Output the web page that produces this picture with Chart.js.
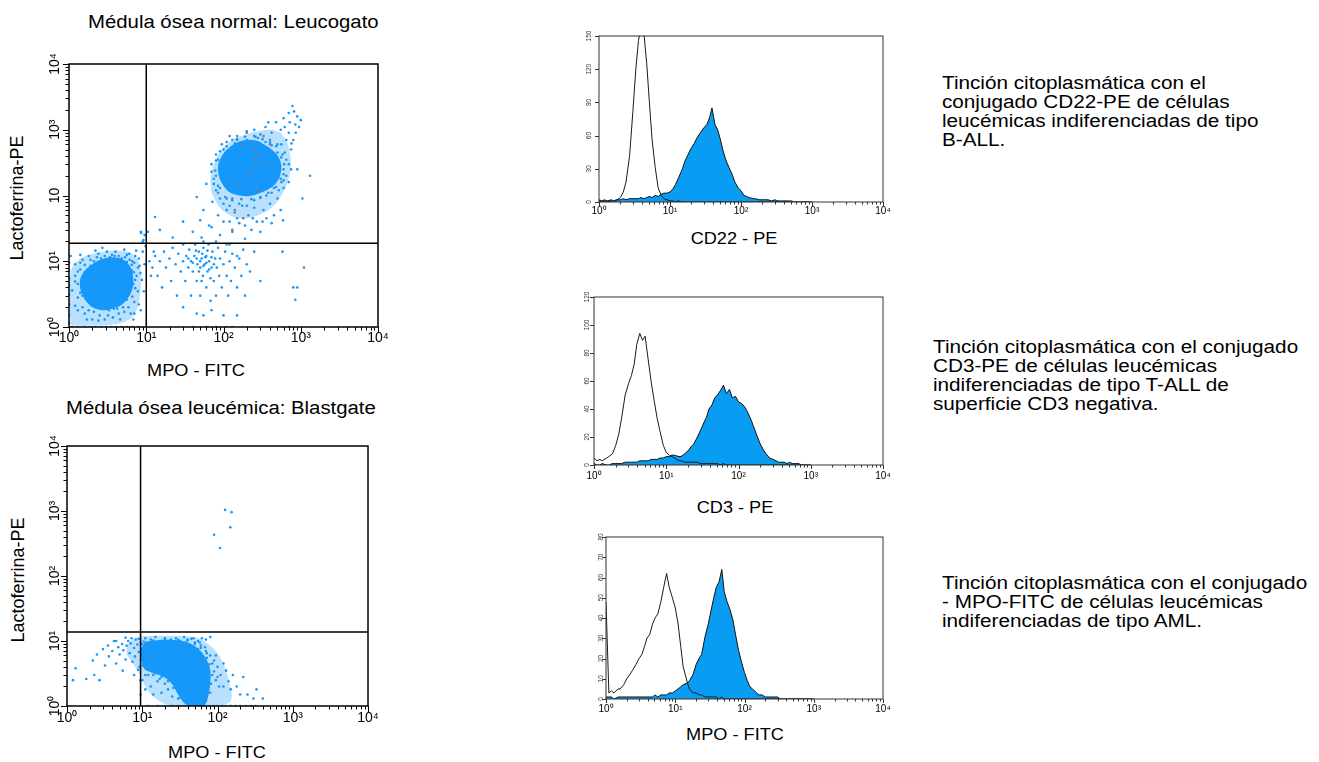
<!DOCTYPE html>
<html lang="es">
<head>
<meta charset="utf-8">
<title>Citometría de flujo: MPO, lactoferrina, CD22, CD3</title>
<script src="https://cdn.jsdelivr.net/npm/chart.js@4.4.1/dist/chart.umd.min.js"></script>
<style>
  html, body { margin: 0; padding: 0; background: #fff; }
  body { width: 1319px; height: 762px; position: relative; overflow: hidden;
         font-family: Arial, "Liberation Sans", Helvetica, sans-serif; color: #000; }
  .plot { position: absolute; }
  .title { position: absolute; white-space: nowrap; font-size: 18px; line-height: 20px;
           transform: scaleX(1.13); transform-origin: 0 50%; }
  .ax { position: absolute; white-space: nowrap; font-size: 16.5px; line-height: 20px;
        transform: translate(-50%, -50%) scaleX(1.1); }
  .ytitle { position: absolute; white-space: nowrap; font-size: 18px; line-height: 20px;
            transform: translate(-50%, -50%) rotate(-90deg); }
  .desc { position: absolute; white-space: nowrap; font-size: 18px; line-height: 19px;
          transform: scaleX(1.15); transform-origin: 0 0; }
</style>
</head>
<body>

<div class="title" style="left:88px; top:12px;">Médula ósea normal: Leucogato</div>
<div class="title" style="left:66px; top:398px;">Médula ósea leucémica: Blastgate</div>

<div class="ytitle" style="left:17px; top:198px;">Lactoferrina-PE</div>
<div class="ytitle" style="left:18px; top:580px;">Lactoferrina-PE</div>
<div class="ax" style="left:196px; top:370px;">MPO - FITC</div>
<div class="ax" style="left:217px; top:752px;">MPO - FITC</div>
<div class="ax" style="left:734px; top:238px;">CD22 - PE</div>
<div class="ax" style="left:735px; top:507px;">CD3 - PE</div>
<div class="ax" style="left:735px; top:734px;">MPO - FITC</div>

<div class="desc" style="left:942px; top:74px;">Tinción citoplasmática con el<br>conjugado CD22-PE de células<br>leucémicas indiferenciadas de tipo<br>B-ALL.</div>
<div class="desc" style="left:933px; top:338px;">Tinción citoplasmática con el conjugado<br>CD3-PE de células leucémicas<br>indiferenciadas de tipo T-ALL de<br>superficie CD3 negativa.</div>
<div class="desc" style="left:942px; top:574px;">Tinción citoplasmática con el conjugado<br>- MPO-FITC de células leucémicas<br>indiferenciadas de tipo AML.</div>

<div class="plot" id="wrapNormal"><canvas id="normalChart"></canvas></div>
<div class="plot" id="wrapLeuk"><canvas id="leukChart"></canvas></div>
<div class="plot" id="wrapCd22"><canvas id="cd22Chart"></canvas></div>
<div class="plot" id="wrapCd3"><canvas id="cd3Chart"></canvas></div>
<div class="plot" id="wrapMpo"><canvas id="mpoChart"></canvas></div>

<script>
// ---- axis labels ----
const decades = [1, 10, 100, 1000, 10000];
const decadeLabels = ['10⁰', '10¹', '10²', '10³', '10⁴'];
const normalYLabels = ['10⁰', '10¹', '10', '10³', '10⁴'];  // as printed in the original

// ---- dot plots: [MPO-FITC, Lactoferrina-PE] ----
const normalGate = [10, 18.8];
const leukGate = [9.5, 13.7];

// outlines of the densest part of each population
const normalLowCore = [
  [1.6,2.6],[2.0,2.0],[2.8,1.8],[3.6,1.9],[4.6,2.1],[5.6,2.6],[6.4,3.4],[6.8,4.6],[6.7,6.2],
  [6.3,8.0],[5.5,9.8],[4.5,11.2],[3.4,11.5],[2.6,10.6],[2.0,9.0],[1.6,7.2],[1.4,5.4],[1.4,3.8],[1.6,2.6]
];
const normalHighCore = [
  [100,140],[120,112],[160,100],[220,98],[290,108],[380,125],[470,150],[540,200],[560,280],
  [520,380],[440,480],[350,580],[270,680],[200,700],[150,640],[115,520],[95,400],[85,280],[88,190],[100,140]
];
const leukCore = [
  [11,9.8],[16,10.3],[24,10.4],[34,10],[45,9],[57,7.4],[70,5.4],[80,3.6],[80,2.2],[74,1.3],
  [66,1.0],[50,1.0],[38,1.05],[30,1.5],[24,2.3],[18,2.9],[13,3.3],[10.5,3.8],[9.7,5.5],[9.8,7.8],[11,9.8]
];
// outlines of the medium-density halo around them
const normalLowHalo = [
  [1.05,1.05],[2,1.05],[4,1.1],[6,1.3],[7.5,1.8],[8.3,3],[8.6,5],[8.4,8],[7.6,11],[6.2,13.5],
  [4.5,14.5],[3,14.2],[2,13],[1.4,11],[1.1,8],[1.02,5],[1.02,2.5],[1.05,1.05]
];
const normalHighHalo = [
  [70,110],[90,65],[130,48],[200,45],[300,52],[420,65],[560,100],[680,160],[740,260],[730,420],
  [660,650],[540,900],[400,1000],[280,950],[190,850],[130,700],[95,500],[75,300],[68,180],[70,110]
];
const leukHalo = [
  [10,11.8],[20,12],[35,11.8],[55,11],[75,9],[100,6.5],[125,4],[145,2.2],[150,1.2],[100,1.0],
  [50,1.0],[25,1.0],[15,1.3],[11,2],[9.5,3],[7.5,4.5],[6.2,6.5],[6.5,9],[8,11],[10,11.8]
];

const normalEvents = [
  // lymphoid / negative population
  [1.1,1],[1.3,1],[1.6,1],[1.9,1],[2.2,1],[2.6,1],[3.0,1],[3.5,1],[4.1,1],[4.8,1],[5.6,1],[6.6,1],[7.8,1],
  [1,1.5],[1,2.2],[1,3.1],[1,4.2],[1,5.5],[1,7.2],
  [1.2,2.1],[1.3,4.5],[1.4,7.5],[1.5,3.0],[1.5,10.5],[1.6,1.6],[1.7,5.5],[1.8,2.5],[1.8,12],[1.9,8.5],
  [2.0,1.3],[2.0,3.4],[2.1,10],[2.3,2.0],[2.4,13],[2.5,1.5],[2.6,11],[2.8,2.3],[2.9,1.3],[3.0,9.8],
  [3.1,14],[3.3,1.8],[3.4,11.5],[3.6,2.2],[3.7,1.4],[3.9,12],[4.2,1.9],[4.3,9.8],[4.5,2.4],[4.6,1.3],
  [4.8,11],[5.0,2.0],[5.2,15],[5.5,8.5],[5.6,2.6],[5.8,5.5],[6.0,3.4],[6.1,10.5],[6.3,1.6],[6.5,7.2],
  [6.8,4.5],[7.0,2.4],[7.2,12],[7.5,6.0],[7.8,3.5],[8.2,8.5],[8.5,1.8],[8.8,5.2],[6.0,13],[1.9,6.2],
  [1.6,8.8],[1.3,1.8],[1.2,6.0],[2.2,14.5],[4.0,14],[7.0,9.5],[8.0,11],[9.0,14],[9.2,21],[8.6,27],
  [9.5,9],[9.3,3.5],[8.0,2.2],[1.4,12.5],[2.7,16],[5.6,12.5],[7.4,14.5],[6.8,1.3],[1.1,3.6],[1.2,9],
  [2.0,7.6],[1.7,3.9],[5.8,4.0],[6.2,6.2],[5.6,9.8],[2.4,9.5],[3.3,10.5],[4.6,10.2],[2.3,2.6],[4.4,2.8],
  [5.6,3.0],[3.0,2.3],[4.0,2.3],[1.5,5.0],[1.6,6.8],[6.5,8.8],[7.2,5.2],
  [1.4,3.3],[1.5,2.0],[1.7,1.3],[2.1,1.7],[2.6,1.9],[3.2,1.5],[3.8,1.9],[4.4,1.6],[5.2,1.7],[5.9,2.0],
  [6.6,2.9],[7.2,3.9],[6.9,6.8],[6.6,10],[5.3,11.5],[4.4,12],[3.6,12.5],[2.9,12],[2.3,11.5],[1.9,10.5],
  [1.4,9.5],[1.3,7.0],[1.2,4.9],[1.3,2.8],[7.8,8.0],[8.4,6.6],[7.0,1.6],[2.4,1.25],[1.8,1.8],[1,1.15],
  [1,9.5],[1.05,12],
  // monocytic population, MPO+ lactoferrin-
  [12,8],[13,12],[14,6],[15,10],[16,4],[17,14],[18,8],[20,11],[21,5],[22,16],[24,9],[25,3],[26,13],
  [28,7],[30,18],[30,10],[32,5],[33,12],[35,8],[36,15],[38,3],[38,10],[40,7],[42,12],[43,18],[45,5],
  [46,9],[48,14],[50,8],[50,3],[52,11],[54,6],[55,16],[57,9],[60,4],[60,12],[62,7],[64,18],[65,10],
  [68,2.5],[70,8],[72,14],[75,5],[78,11],[80,3],[82,8],[85,16],[88,6],[90,11],[95,4],[100,9],[105,14],
  [110,6],[115,3],[120,10],[125,5],[130,13],[140,8],[150,4],[160,11],[170,6],[180,15],[190,3],[200,9],
  [220,7],[30,2],[45,1.6],[55,1.5],[70,1.8],[100,1.5],[150,1.5],[55,20],[80,20],[120,18],[250,14],
  [300,5],[110,1],[60,1],[80,1],[130,1],[40,1],[11,10],[11.5,6],[12.5,14],
  [40,9.5],[45,11],[50,10],[55,8.5],[60,9.5],[65,7.5],[48,7],[53,13],[58,11.5],[62,14.5],[44,14.5],
  [35,11],[70,11.5],[75,9],[68,5.5],[52,5],
  [580,14],[800,4],[850,2.6],[900,4],[1100,8],[700,1],
  [13,47],[30,40],[22,23],[52,23],[50,42],[9,20],[9.5,25],[8.5,28],[9.8,17],[10.5,28],[15,30],[40,28],[70,33],
  // granulocytic population, MPO+ lactoferrin+
  [45,95],[55,60],[60,150],[65,35],[70,230],[72,80],[80,420],[85,50],[90,25],[95,600],
  [100,40],[110,18],[120,70],[130,28],[140,55],[150,12],[160,38],[175,70],[190,22],[210,50],
  [230,30],[250,65],[270,40],[300,28],[330,60],[360,45],[400,75],[450,50],[500,90],[550,60],
  [600,130],[650,200],[700,300],[620,450],[560,600],[750,500],[800,700],[700,900],[850,1200],[900,1600],
  [780,2300],[820,1900],[950,1100],[1000,1400],[900,250],[1320,200],[1050,90],[590,42],
  [150,800],[200,950],[250,1000],[300,850],[350,1100],[420,900],[480,1300],[550,1000],[600,1500],[700,1800],
  [200,700],[280,750],[400,700],
  [70,300],[75,180],[80,120],[85,350],[100,500],[110,650],[130,700],[600,250],[650,350],[550,180],
  [520,120],[480,300],[700,160],[750,250],[500,450],
  [80,200],[85,140],[90,90],[100,75],[110,60],[130,85],[160,75],[200,70],[250,85],[300,95],
  [380,110],[450,130],[520,200],[540,280],[560,380],[500,600],[420,580],[350,650],[300,620],[250,800],
  [180,560],[140,620],[100,400],[90,320],[95,260],[600,170],[150,45],[320,40],[420,38],[240,45],
  [190,35],[120,40],[380,1300],[650,700],[620,1100],[720,1300],[860,900],[760,620],
  [90,130],[85,110],[105,95],[130,90],[170,88],[230,88],[300,92],[360,100],[420,110],[480,135],
  [560,160],[600,210],[610,300],[580,420],[480,560],[400,640],[320,720],[260,780],[190,780],[150,720],
  [110,560],[90,470],[80,340],[78,240],[75,150],[500,260]
];

const normalGray = [
  [120,800],[150,700],[180,600],[200,900],[250,500],[260,350],[300,420],[350,300],[220,200],
  [160,150],[140,60],[180,45],[110,90],[280,120],[400,600],[130,30],[330,800],[230,250]
];

const leukEvents = [
  [11,11],[13,10.5],[15,11.5],[18,10],[20,11],[24,10.5],[28,11],[32,10],[36,11.5],[40,10.5],
  [48,11],[55,10],[62,11],[70,10.5],[80,11.5],
  [10,9],[10.5,6],[11,4],[10,2.5],[11,1.8],[12,8.5],[12,3],[13,2],[14,1.5],[15,9],[16,2.4],[18,1.6],
  [19,9],[22,1.8],[24,8.8],[25,1.4],[28,9],[30,1.3],[38,9.5],[40,8.5],[45,8],[50,9],[55,7.5],[60,8.5],
  [62,6],[65,5],[70,7],[75,4],[80,6],[85,3],[90,5],[95,2.5],[100,4],[110,3],[120,2],[130,3.5],
  [140,2.4],[150,1.8],[160,3],[180,2],[200,1.5],[220,2.8],[250,1.5],[300,1.3],[330,1.8],[400,1.3],
  [70,1.2],[80,1.6],[60,1.3],
  [12,6.5],[14,7],[12,5],[15,3.2],[18,2.8],[20,2.2],[45,2.5],[60,3.2],[65,2.2],[50,5.5],[45,6.5],
  [55,6],[66,3.8],[72,5.5],[68,8],[58,9.5],[30,9.8],[22,9.5],[17,9.6],[25,2.3],[28,1.9],[35,1.5],
  [45,1.3],[55,1.6],[62,1.9],[75,2.4],[85,4.5],[95,6],[105,2],[120,4.5],[10.5,7.8],[11,3],
  [9.8,6],[10.2,4.2],[12,3.8],[14,3],[17,2.6],[22,2.4],[26,1.9],[32,1.35],[60,1.45],[68,2.0],
  [76,3.0],[78,4.4],[72,6.5],[60,7.8],[50,9.5],[40,10.2],[45,10.8],[30,10.4],[20,10.3],[14,10.2],
  [10.5,9.8],[82,2.2],[90,3.4],[100,2.8],
  [12,1],[16,1],[20,1],[25,1],[30,1],[36,1],[42,1],[50,1],[58,1],[66,1],[76,1],[88,1],[100,1],
  [115,1],[130,1],[150,1],[175,1],[200,1],[240,1],[280,1],[320,1],
  [1.3,3.8],[1.2,2.5],[1.8,2.6],[2.2,5],[2.3,3],[2.5,6.2],[2.7,2.5],[3.0,7.5],[3.2,4.2],[3.5,8.5],
  [3.6,5.8],[4.0,7],[4.2,10],[4.5,4.5],[4.8,8],[5.0,6.2],[5.4,9],[5.6,7.2],[6,5.2],[6.2,8.5],
  [6.5,10],[6.8,6.5],[7,9.2],[7.4,4.8],[7.8,7.8],[8,5.8],[8.2,10.5],[8.6,8.8],[9,6.8],[9.2,4],
  [9.5,9.5],[9.8,7.5],[5.5,3.5],[7.8,3],[9.5,2.5],[9.5,1.5],[4.5,10],[8.8,3.6],[9.0,10.8],[7.2,11],
  [6,11.2],[9.6,5.2],
  [126,1040],[154,960],[148,560],[90,430],[108,270]
];

// ---- histograms: channel bins and event counts ----
const histBins = [
  1.0,1.1,1.2,1.3,1.5,1.6,1.8,2.0,2.2,2.4,2.7,3.0,3.3,3.6,3.9,4.3,4.7,5.1,5.6,6.2,6.8,7.5,8.2,9.1,
  10,11,12,13,15,16,18,20,22,24,27,30,33,36,39,43,47,51,56,62,68,75,82,91,
  100,110,120,130,150,160,180,200,220,240,270,300,330,360,390,430,470,510,560,620,680,750,820,910,
  1000
];
const cd22Iso = [
  1,0,1,0,1,1,2,4,9,18,42,82,120,146,158,152,125,92,56,31,13,6,3,2,
  1,1,0,1,0,0,0,0,0,0,0,0,0,0,0,0,0,0,0,0,0,0,0,0,
  0,0,0,0,0,0,0,0,0,0,0,0,0,0,0,0,0,0,0,0,0,0,0,0,
  0
];
const cd22Pos = [
  2,1,2,1,2,1,2,2,3,2,3,3,3,3,4,3,4,5,4,6,5,7,8,8,
  9,12,16,21,30,36,43,49,53,58,63,67,70,76,85,70,65,57,46,37,31,25,18,13,
  10,6,5,4,3,3,2,2,2,2,1,2,1,1,1,1,1,1,0,0,0,0,0,0,
  0
];
const cd3Iso = [
  5,3,4,3,5,6,8,14,22,33,50,58,64,72,86,94,89,92,76,59,46,33,24,14,
  9,7,6,5,3,3,2,2,2,2,2,1,1,1,1,1,1,1,0,1,0,0,0,0,
  0,0,0,0,0,0,0,0,0,0,0,0,0,0,0,0,0,0,0,0,0,0,0,0,
  0
];
const cd3Pos = [
  1,0,0,1,0,0,1,1,1,1,2,2,2,2,2,3,3,3,3,4,4,4,5,5,
  6,6,7,7,6,6,8,10,13,15,20,25,30,34,40,43,48,50,53,57,51,54,48,49,
  45,44,42,39,32,28,21,15,11,8,5,4,3,2,2,2,1,2,1,1,1,0,0,0,
  0
];
const mpoIso = [
  48,3,4,3,5,5,7,10,12,14,17,20,22,26,30,32,37,40,42,48,55,62,55,50,
  45,37,26,16,8,5,3,3,2,2,1,1,1,1,1,0,1,0,0,0,0,0,0,0,
  0,0,0,0,0,0,0,0,0,0,0,0,0,0,0,0,0,0,0,0,0,0,0,0,
  0
];
const mpoPos = [
  1,1,1,0,1,1,1,1,1,1,1,1,1,1,1,1,1,2,1,2,2,2,3,3,
  4,5,6,7,8,9,12,17,20,22,31,37,44,50,55,58,64,53,48,44,39,31,24,18,
  13,9,6,5,3,2,2,1,1,1,1,1,0,0,0,0,0,0,0,0,0,0,0,0,
  0
];

// ---- drawing ----
Chart.defaults.font.family = 'Arial, "Liberation Sans", Helvetica, sans-serif';
const dotBlue = 'rgb(22,152,250)';
const haloBlue = 'rgba(22,152,250,0.3)';
const histBlue = 'rgb(8,156,242)';
const M = { l: 60, t: 12, r: 24, b: 34 };   // canvas margins around each plot box

const pts = arr => arr.map(p => ({ x: p[0], y: p[1] }));
const series = ys => histBins.map((x, i) => ({ x: x, y: ys[i] }));

function logTicks() {
  const out = [];
  decades.forEach((d, i) => {
    out.push({ value: d, major: true });
    if (i < decades.length - 1) {
      for (let k = 2; k <= 9; k++) out.push({ value: d * k, major: false });
    }
  });
  return out;
}

const fitX = s => { s.height = M.b; s.paddingLeft = 0; s.paddingRight = 0; };
const fitY = s => { s.width = M.l; s.paddingTop = 0; s.paddingBottom = 0; };

function logScale(labels, size, pad, rot, fit) {
  return {
    type: 'logarithmic', min: 1, max: 10000,
    grid: { display: false, drawTicks: false }, border: { display: false },
    afterBuildTicks: s => { s.ticks = logTicks(); },
    afterFit: fit,
    ticks: {
      autoSkip: false, padding: pad, color: '#000', font: { size: size },
      minRotation: rot, maxRotation: rot, crossAlign: rot ? 'center' : 'near',
      callback: v => { const i = decades.indexOf(v); return i < 0 ? '' : labels[i]; }
    }
  };
}

function countScale(max, step, pad) {
  return {
    type: 'linear', min: 0, max: max,
    grid: { display: false, drawTicks: false }, border: { display: false },
    afterFit: fitY,
    ticks: { stepSize: step, padding: pad, color: '#333', font: { size: 6.5 }, autoSkip: false,
             minRotation: 90, maxRotation: 90, crossAlign: 'center' }
  };
}

// plot frame plus major / minor tick marks
const framePlugin = {
  id: 'frame',
  afterDraw(chart, args, o) {
    const { ctx, chartArea: a, scales } = chart;
    ctx.save();
    ctx.strokeStyle = o.color;
    ctx.lineWidth = o.width;
    ctx.strokeRect(a.left, a.top, a.right - a.left, a.bottom - a.top);
    ctx.lineWidth = 1;
    ctx.beginPath();
    scales.x.ticks.forEach(t => {
      const p = Math.round(scales.x.getPixelForValue(t.value)) + 0.5;
      ctx.moveTo(p, a.bottom);
      ctx.lineTo(p, a.bottom + (t.major ? o.major : o.minor));
    });
    scales.y.ticks.forEach(t => {
      const p = Math.round(scales.y.getPixelForValue(t.value)) + 0.5;
      const len = (t.major || scales.y.type === 'linear') ? o.major : o.minor;
      ctx.moveTo(a.left, p);
      ctx.lineTo(a.left - len, p);
    });
    ctx.stroke();
    ctx.restore();
  }
};

function baseOptions(frame, scales) {
  return {
    animation: false, responsive: true, maintainAspectRatio: false, events: [],
    layout: { padding: { left: 0, top: M.t, right: M.r, bottom: 0 }, autoPadding: false },
    plugins: { legend: { display: false }, tooltip: { enabled: false }, frame: frame },
    scales: scales
  };
}

function place(id, box) {
  const w = document.getElementById(id);
  w.style.left = (box[0] - M.l) + 'px';
  w.style.top = (box[1] - M.t) + 'px';
  w.style.width = (box[2] - box[0] + M.l + M.r) + 'px';
  w.style.height = (box[3] - box[1] + M.t + M.b) + 'px';
}

function gateLines(g) {
  const line = { showLine: true, borderColor: '#000', borderWidth: 1.5, pointRadius: 0 };
  return [
    Object.assign({ data: [{ x: g[0], y: 1 }, { x: g[0], y: 10000 }] }, line),
    Object.assign({ data: [{ x: 1, y: g[1] }, { x: 10000, y: g[1] }] }, line)
  ];
}

function shape(outline, color) {
  return { data: pts(outline), showLine: true, fill: 'shape', tension: 0.35,
           backgroundColor: color, borderColor: color, borderWidth: 0, pointRadius: 0 };
}

function dotPlot(canvasId, wrapId, box, gate, events, cores, halos, gray, yLabels, pads) {
  place(wrapId, box);
  const datasets = gateLines(gate);
  if (gray) datasets.push({ data: pts(gray), pointRadius: 1.3, backgroundColor: '#787c86', borderWidth: 0 });
  datasets.push({ data: pts(events), pointRadius: 1.3, backgroundColor: dotBlue, borderWidth: 0 });
  cores.forEach(c => datasets.push(shape(c, dotBlue)));
  halos.forEach(h => datasets.push(shape(h, haloBlue)));
  new Chart(document.getElementById(canvasId), {
    type: 'scatter',
    data: { datasets: datasets },
    options: baseOptions({ color: '#000', width: 1.5, major: 6, minor: 3.5 }, {
      x: logScale(decadeLabels, 14, pads[0], 0, fitX),
      y: logScale(yLabels, 14, pads[1], 90, fitY)
    }),
    plugins: [framePlugin]
  });
}

function histogram(canvasId, wrapId, box, iso, pos, max, step, pads) {
  place(wrapId, box);
  new Chart(document.getElementById(canvasId), {
    type: 'line',
    data: { datasets: [
      { data: series(iso), borderColor: '#1a1a1a', borderWidth: 1, fill: false, pointRadius: 0, tension: 0 },
      { data: series(pos), borderColor: '#111', borderWidth: 1, backgroundColor: histBlue,
        fill: 'origin', pointRadius: 0, tension: 0 }
    ]},
    options: baseOptions({ color: '#333', width: 1, major: 4, minor: 2.5 }, {
      x: logScale(decadeLabels, 10, pads[0], 0, fitX),
      y: countScale(max, step, pads[1])
    }),
    plugins: [framePlugin]
  });
}

dotPlot('normalChart', 'wrapNormal', [69, 64, 378, 327], normalGate, normalEvents,
        [normalLowCore, normalHighCore], [normalLowHalo, normalHighHalo],
        normalGray, normalYLabels, [3, 3]);
dotPlot('leukChart', 'wrapLeuk', [67, 446, 368, 706], leukGate, leukEvents,
        [leukCore], [leukHalo], null, decadeLabels, [4, 1.5]);
histogram('cd22Chart', 'wrapCd22', [599, 36, 883, 202], cd22Iso, cd22Pos, 150, 30, [3, 4]);
histogram('cd3Chart', 'wrapCd3', [594, 297, 883, 465], cd3Iso, cd3Pos, 120, 20, [5, 1]);
histogram('mpoChart', 'wrapMpo', [606, 537, 883, 699], mpoIso, mpoPos, 80, 10, [4, 1]);
</script>
</body>
</html>
